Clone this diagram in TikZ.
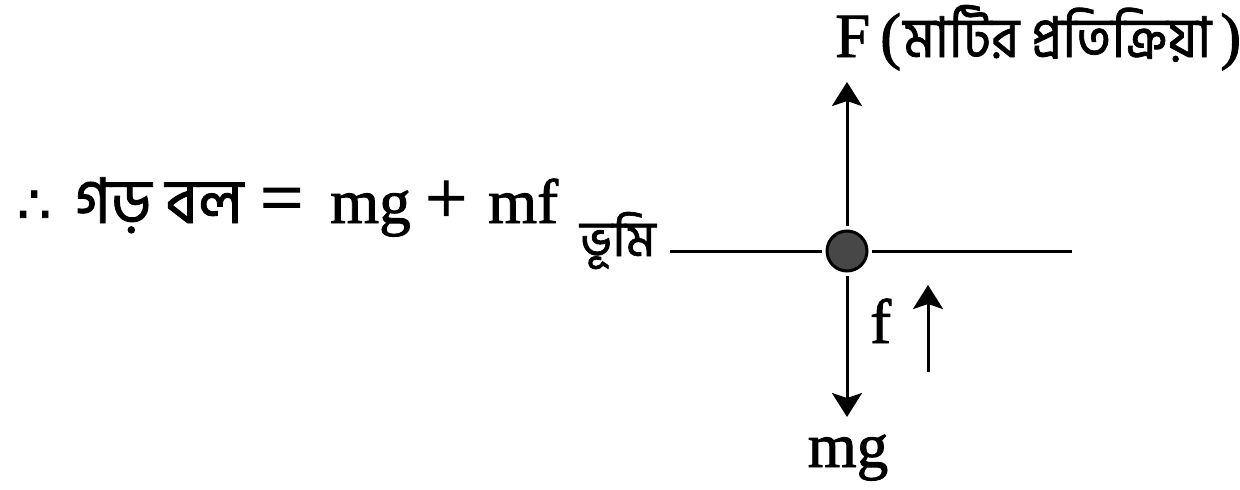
\documentclass[tikz,border=0pt]{standalone}
\usepackage{fontspec}
\usepackage{graphicx}
\setmainfont{Liberation Serif}[FakeBold=1.5]
\newfontfamily\bn[Script=Bengali,FakeBold=1.4]{Hind Siliguri}
\newfontfamily\dv{DejaVu Sans}[FakeBold=1.5]
\usetikzlibrary{arrows.meta}
\begin{document}
\begin{tikzpicture}[x=1pt,y=-1pt,
  txt/.style={inner sep=0pt, font=\fontsize{63}{70}\selectfont},
  force/.style={line width=3pt, -{Stealth[length=24pt,width=30pt,inset=5pt]}},
  ground/.style={line width=3pt},
  ball/.style={circle, draw=black, fill=black!72, line width=3pt, minimum size=40pt, inner sep=0pt, outer sep=5pt}]
\useasboundingbox (0,0) rectangle (1240,490);
% labels
\node[txt, anchor=base west] (eq) at (17,223) {\makebox[58pt][l]{\resizebox{34pt}{!}{\dv ∴}}\makebox[185pt][l]{\resizebox{168pt}{\height}{\bn গড় বল}}\makebox[70pt][l]{\resizebox{43pt}{!}{=}}\makebox[95pt][l]{mg}\makebox[63pt][l]{\resizebox{42pt}{!}{+}}mf};
\node[txt, anchor=base west, font=\bn\fontsize{50}{60}\selectfont] (gnd) at (580,256) {ভূমি};
\node[txt, anchor=base west] (F) at (835,57) {\makebox[45pt][l]{F}\makebox[23pt][l]{(}\makebox[317pt][l]{\resizebox{308pt}{\height}{\bn\fontsize{56}{60}\selectfont মাটির প্রতিক্রিয়া}})};
\node[txt, anchor=base] (mg) at (848,467) {mg};
\node[txt, anchor=base west] (f) at (870,343) {f};
% ball and ground
\node[ball] (b) at (847,251) {};
\coordinate (gl) at (670,251);
\coordinate (gr) at (1072,251);
\draw[ground] (gl) -- (b);
\draw[ground] (b) -- (gr);
% forces
\coordinate (Ftip) at (847,82);
\coordinate (mgtip) at (847,417);
\draw[force] (b) -- (Ftip);
\draw[force] (b) -- (mgtip);
\coordinate (fs) at (928,372);
\coordinate (ft) at (928,285);
\draw[force] (fs) -- (ft);
\end{tikzpicture}
\end{document}
